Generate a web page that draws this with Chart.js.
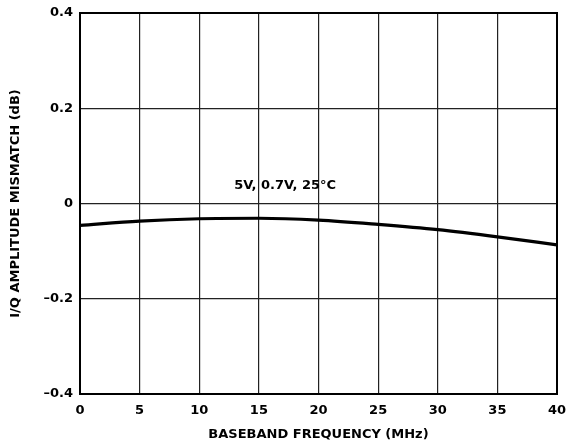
<!DOCTYPE html>
<html>
<head>
<meta charset="utf-8">
<script src="https://cdn.jsdelivr.net/npm/chart.js@4/dist/chart.umd.min.js"></script>
<style>
  html, body { margin: 0; padding: 0; background: #fff; }
  #wrap { position: relative; width: 567px; height: 446px; }
</style>
</head>
<body>
<div id="wrap"><canvas id="mismatch-chart"></canvas></div>
<script>
// values
var freqMHz = [0, 5, 10, 15, 20, 25, 30, 35, 40];
var mismatchDb = [-0.046, -0.037, -0.032, -0.031, -0.035, -0.044, -0.055, -0.070, -0.087];
var xTicks = [0, 5, 10, 15, 20, 25, 30, 35, 40];
var yTicks = [-0.4, -0.2, 0, 0.2, 0.4];
var curveLabel = "5V, 0.7V, 25°C";

var FONT = "'DejaVu Sans', Arial, sans-serif";

function fmtY(v) {
  if (Math.abs(v) < 1e-9) return "0";
  var s = Math.abs(v).toFixed(1);
  return v < 0 ? "\u2013" + s : s;
}

// thick frame round the plot + the curve label
var framePlugin = {
  id: "frame",
  afterDraw: function (chart) {
    var a = chart.chartArea, ctx = chart.ctx;
    ctx.save();
    ctx.strokeStyle = "#000";
    ctx.lineWidth = 2;
    ctx.strokeRect(a.left, a.top, a.right - a.left, a.bottom - a.top);
    var x = chart.scales.x.getPixelForValue(17.2);
    var y = chart.scales.y.getPixelForValue(0.038);
    ctx.font = "bold 13px " + FONT;
    ctx.fillStyle = "#000";
    ctx.textAlign = "center";
    ctx.textBaseline = "middle";
    ctx.fillText(curveLabel, x, y);
    ctx.restore();
  }
};

var config = {
  type: "line",
  data: {
    datasets: [
      {
        data: freqMHz.map(function (f, i) { return { x: f, y: mismatchDb[i] }; }),
        borderColor: "#000",
        borderWidth: 3.2,
        pointRadius: 0,
        cubicInterpolationMode: "monotone",
        fill: false
      }
    ]
  },
  options: {
    responsive: true,
    maintainAspectRatio: false,
    animation: false,
    layout: { padding: { top: 13, right: 10, left: 0, bottom: 0 } },
    plugins: {
      legend: { display: false },
      tooltip: { enabled: false }
    },
    scales: {
      x: {
        type: "linear",
        min: 0,
        max: 40,
        afterBuildTicks: function (s) { s.ticks = xTicks.map(function (v) { return { value: v }; }); },
        afterFit: function (s) {
          s.height = 52;
          s.paddingLeft = 0;
          s.paddingRight = 0;
        },
        grid: { color: "#222", lineWidth: 1.2, drawTicks: false },
        border: { display: false },
        ticks: {
          padding: 9,
          color: "#000",
          maxRotation: 0,
          font: { family: FONT, size: 13, weight: "bold" }
        },
        title: {
          display: true,
          text: "BASEBAND FREQUENCY (MHz)",
          color: "#000",
          font: { family: FONT, size: 13, weight: "bold" },
          padding: { top: 0, bottom: 4 }
        }
      },
      y: {
        min: -0.4,
        max: 0.4,
        afterBuildTicks: function (s) { s.ticks = yTicks.map(function (v) { return { value: v }; }); },
        afterFit: function (s) {
          s.width = 80;
          s.paddingTop = 0;
          s.paddingBottom = 0;
        },
        grid: { color: "#222", lineWidth: 1.2, drawTicks: false },
        border: { display: false },
        ticks: {
          padding: 7,
          color: "#000",
          font: { family: FONT, size: 13, weight: "bold" },
          callback: function (v) { return fmtY(v); }
        },
        title: {
          display: true,
          text: "I/Q AMPLITUDE MISMATCH (dB)",
          color: "#000",
          font: { family: FONT, size: 13, weight: "bold" },
          padding: { top: 8, bottom: 0 }
        }
      }
    }
  },
  plugins: [framePlugin]
};

var ctx = document.getElementById("mismatch-chart").getContext("2d");
window.mismatchChart = new Chart(ctx, config);
</script>
</body>
</html>
